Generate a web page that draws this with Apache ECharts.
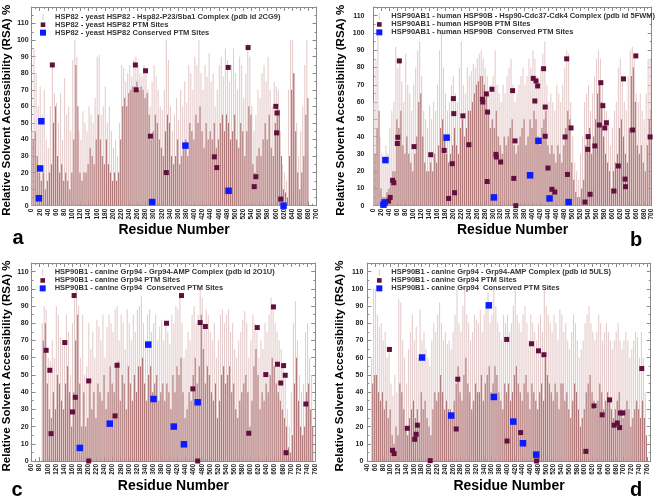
<!DOCTYPE html>
<html><head><meta charset="utf-8">
<script src="https://cdn.jsdelivr.net/npm/echarts@6/dist/echarts.min.js"></script>
<style>html,body{margin:0;padding:0;background:#fff}#c{width:660px;height:498px}</style>
</head><body><div id="c"></div>
<script>
// ---------- DATA (RSA %, binned every 5 residues: upper spikes and dense lower body) ----------
const BIN = 5;

// Panel a: HSP82 yeast (2CG9)
const rsaStartA = 0;
const rsaPeakA = [45,95,80,60,72,55,70,40,35,60,85,68,62,50,68,40,77,55,60,45,
  88,100,90,45,40,57,50,45,60,55,50,65,90,91,55,60,72,50,60,45,
  35,40,30,50,85,83,75,80,85,78,88,90,85,80,78,85,80,70,60,75,
  85,78,70,60,58,70,100,88,60,45,55,65,52,70,60,75,62,85,80,70,
  90,85,100,80,70,85,78,92,75,80,60,70,85,90,78,95,88,75,85,95,
  80,70,90,85,65,80,98,90,60,45,55,70,65,80,85,75,90,70,60,75,
  72,70,45,25,20,15,70,100,100,80,50,30,45,60,85,100];
const rsaBaseA = [40,45,30,20,15,20,10,15,20,25,50,60,30,20,25,15,20,15,10,20,
  40,85,60,20,15,20,20,25,35,30,25,40,55,40,30,25,40,25,20,15,
  20,15,20,40,60,65,60,68,70,72,72,75,70,72,70,65,68,55,40,45,
  55,50,40,35,30,45,55,50,30,25,30,40,25,30,35,40,30,50,45,40,
  55,50,60,45,35,50,40,45,40,50,35,40,50,55,45,55,50,40,45,55,
  40,35,50,45,30,45,60,55,25,20,30,35,30,40,50,40,55,35,30,50,
  60,58,30,10,8,5,30,70,80,45,20,10,20,30,55,65];
const ptmResA = [51,255,257,280,292,331,449,455,483,532,547,551,600,603,602,612];
const ptmValA = [85,85,70,81.5,42,20,29.5,23,83.5,95.5,11.5,17.5,60,56,44,4];
const consResA = [18,21,24,296,378,484,619];
const consValA = [4.5,22.5,51,2.2,36.3,9,0];

// Panel b: HSP90AB1 human (5FWM)
const rsaStartB = 0;
const rsaPeakB = [60,85,98,40,30,25,35,30,45,55,60,92,80,85,72,60,88,70,65,55,
  70,80,90,95,75,55,50,45,58,50,60,55,70,90,100,80,65,55,60,70,
  75,65,60,80,95,70,65,80,75,78,82,80,85,88,90,85,80,75,65,70,
  75,90,70,65,60,70,65,75,80,85,70,60,65,70,75,80,70,75,85,80,
  90,85,75,70,80,88,95,70,60,65,60,55,70,65,60,70,80,90,88,60,
  40,25,20,15,30,40,60,65,70,55,65,75,85,90,85,70,60,55,50,35,
  45,55,60,80,85,75,60,55,75,90,92,85,65,60,65,55,50,65,85,85];
const rsaBaseB = [30,45,55,10,5,5,8,10,15,20,20,50,45,55,35,30,40,30,25,20,
  30,40,60,65,40,25,20,20,25,20,30,25,35,45,50,40,30,25,30,35,
  45,35,30,45,50,40,45,55,55,60,65,70,72,75,75,70,65,55,45,50,
  45,55,40,35,30,40,35,40,45,50,35,30,35,40,45,50,35,40,50,45,
  55,50,40,35,45,50,55,35,30,35,30,25,35,30,25,35,45,55,50,25,
  15,8,5,5,10,15,35,40,45,30,40,50,65,70,60,40,30,25,20,10,
  20,25,30,45,50,40,30,25,45,75,80,60,35,30,35,25,20,35,50,55];
const ptmResB = [38,42,48,51,60,61,65,102,144,178,189,198,201,202,204,225,240,274,275,284,286,287,298,
  308,309,320,350,353,356,358,402,406,409,413,428,432,432,439,449,456,482,486,488,497,532,539,540,545,
  557,568,572,577,582,586,605,616,629,633,634,652,660,696];
const ptmValB = [2.7,4.8,14.7,13.3,36,39.6,83.8,34.2,29.5,32,4.2,24.3,62,53.3,7.5,52,35.3,61.6,60,64.7,14,54.2,67.4,
  29.7,28.2,25.3,66.6,15.8,37.5,0,73.7,60.6,72.2,69.3,79.3,57.1,40.2,21.8,9.5,7.9,39.8,85,18.1,45,2.1,32.6,40,6.6,
  34.6,46.7,71.2,57.9,45,48,8.5,23,73.4,15.4,11,43.8,86.7,39.8];
const consResB = [25,28,30,184,303,394,415,443,491];
const consValB = [0.6,1.9,26.4,39.4,4.8,17.6,37.5,4.2,2.1];

// Panel c: HSP90B1 canine Grp94 (2O1U)
const rsaStartC = 85;
const rsaPeakC = [80,90,88,60,58,70,60,90,85,72,70,70,85,75,50,80,97,100,90,60,
  85,50,55,80,65,75,60,82,78,70,85,60,78,85,80,75,88,90,70,85,
  80,65,88,80,70,85,75,88,90,96,80,70,85,88,75,80,85,70,78,82,
  70,80,75,68,85,80,90,88,96,80,60,65,75,70,85,90,80,85,100,95,
  80,88,85,75,70,80,60,70,85,88,80,85,88,75,80,65,60,70,75,82,
  87,80,60,70,85,80,75,60,70,65,80,75,85,95,90,80,75,70,65,55,
  50,30,20,40,80,93,70,50,40,45,75,80,60,50];
const rsaBaseC = [70,80,45,30,25,40,30,50,45,35,30,45,55,40,20,40,70,85,45,20,
  40,20,25,45,30,40,25,45,40,35,50,30,40,55,45,40,55,58,35,50,
  45,30,55,45,35,50,40,55,55,60,45,35,50,55,40,45,50,35,40,45,
  35,45,40,30,50,40,55,50,60,40,25,30,40,35,50,60,45,55,85,65,
  45,55,50,40,35,45,25,35,50,55,45,50,55,40,45,30,25,35,40,45,
  50,40,20,35,55,65,50,30,40,35,45,40,50,60,55,45,40,35,30,25,
  20,8,5,15,45,60,35,20,15,20,40,45,30,20];
const ptmResC = [96,105,108,142,161,165,168,201,201,266,271,393,430,458,470,476,489,596,617,638,657,667,675,682,686,688,737];
const ptmValC = [64.3,52.7,15.9,68.8,28.5,96.1,37,0,46.5,26.2,55.6,80,96.1,41.9,0,80.4,78.1,16.1,77.5,50.2,89.5,56.2,45.3,55.4,49.8,4.8,33.1];
const consResC = [179,253,348,361,411,436,470];
const consValC = [7.6,21.7,67.6,36,20,9.7,34.1];

// Panel d: HSP90B1 canine Grp94 (5ULS)
const rsaStartD = 50;
const rsaPeakD = [60,100,100,85,78,80,70,75,60,65,45,38,50,40,94,92,70,60,45,65,
  75,85,70,78,60,88,70,75,65,60,55,70,80,75,85,92,80,70,75,68,
  70,65,75,85,100,80,75,90,100,85,80,70,75,85,82,80,88,75,85,90,
  98,80,85,99,90,80,75,70,85,80,85,75,80,90,99,85,80,75,85,90,
  80,70,85,80,75,70,80,85,75,100,90,85,80,75,85,80,70,88,85,75,
  80,70,65,75,85,80,70,60,65,70,80,85,90,80,75,70,75,85,80,70,
  75,80,75,70,65,70,75,80,70,65,70,75,70,60,65,70,75,72,60,75,
  60,40];
const rsaBaseD = [45,50,50,40,35,40,30,35,25,30,15,10,20,15,45,40,30,20,15,25,
  30,35,25,30,20,40,30,35,25,20,15,30,40,35,40,50,40,30,35,30,
  30,25,35,45,55,40,35,50,60,45,40,30,35,45,40,40,50,35,45,50,
  55,40,45,55,50,40,35,30,45,40,45,35,40,50,55,45,40,35,45,50,
  40,30,45,40,35,30,40,45,35,60,50,45,40,35,45,40,30,45,45,35,
  40,30,25,35,45,40,30,20,25,30,40,45,50,40,35,30,35,45,40,30,
  35,40,35,30,25,30,35,40,30,25,30,35,30,20,25,30,35,30,25,35,
  25,15];
const ptmResD = [97,105,109,143,162,166,169,202,269,273,399,400,435,463,476,481,495,603,624,645,664,676,684,690,692,698,747];
const ptmValD = [64.8,6.2,4.3,19,12.6,15.5,20.8,0.2,18.6,47.5,70.6,11.6,16.5,68.1,0,64,61.7,5.6,32,26.8,35.5,20.8,22.1,19.4,27.9,27.9,53.7];
const consResD = [181,256,353,366,416,441,475];
const consValD = [60.1,26.4,90.4,37.2,22.9,10.3,3.7];

// Legend texts
const namesA = ['HSP82 - yeast HSP82 - Hsp82-P23/Sba1 Complex (pdb id 2CG9)','HSP82 - yeast HSP82 PTM Sites','HSP82 - yeast HSP82 Conserved PTM Sites'];
const namesB = ['HSP90AB1 - human HSP90B - Hsp90-Cdc37-Cdk4 Complex (pdb id 5FWM)','HSP90AB1 - human HSP90B PTM Sites','HSP90AB1 - human HSP90B  Conserved PTM Sites'];
const namesC = ['HSP90B1 - canine Grp94 - Grp94-AMP Complex (pdb id 2O1U)','HSP90B1 - canine Grp94 PTM Sites','HSP90B1 - canine Grp94  Conserved PTM Sites'];
const namesD = ['HSP90B1 - canine Grp94 - Grp94-AMP Complex (pdb id 5ULS)','HSP90B1 - canine Grp94 PTM Sites','HSP90B1 - canine Grp94  Conserved PTM Sites'];
const xTitle = 'Residue Number';
const yTitle = 'Relative Solvent Accessibility (RSA) %';

// ---------- LAYOUT ----------
const panels = [
  {letter:'a', names:namesA, start:rsaStartA, peak:rsaPeakA, base:rsaBaseA, ptmR:ptmResA, ptmV:ptmValA, consR:consResA, consV:consValA,
   grid:{left:31.5, top:7, width:285, height:198.7}, xMin:0, xMax:700, yMax:120, yGap:18.3, yMargin:3,
   leg:{left:38, top:12.7}, let:{x:12.5, y:238}},
  {letter:'b', names:namesB, start:rsaStartB, peak:rsaPeakB, base:rsaBaseB, ptmR:ptmResB, ptmV:ptmValB, consR:consResB, consV:consValB,
   grid:{left:373.5, top:7, width:278.2, height:198.7}, xMin:0, xMax:700, yMax:115, yGap:27, yMargin:9,
   leg:{left:374.3, top:12.4}, let:{x:630, y:240}},
  {letter:'c', names:namesC, start:rsaStartC, peak:rsaPeakC, base:rsaBaseC, ptmR:ptmResC, ptmV:ptmValC, consR:consResC, consV:consValC,
   grid:{left:30.7, top:263, width:284.5, height:198}, xMin:60, xMax:760, yMax:115, yGap:17.5, yMargin:3,
   leg:{left:37.7, top:268.4}, let:{x:11.5, y:490}},
  {letter:'d', names:namesD, start:rsaStartD, peak:rsaPeakD, base:rsaBaseD, ptmR:ptmResD, ptmV:ptmValD, consR:consResD, consV:consValD,
   grid:{left:367.3, top:263, width:283.4, height:198}, xMin:40, xMax:770, yMax:115, yGap:21, yMargin:4,
   leg:{left:374.3, top:268.4}, let:{x:630, y:490}}
];

const FONT = 'Liberation Sans, Arial, sans-serif';
const AX = '#8a8a8a';
const LIGHT = '#e6cccc', DARK = '#b07878', PURPLE = '#620f3e', BLUE = '#0d1bff';
const iconLine = 'path://M0,0M120,65M45,0h10v65h-10z';
const iconPtm = 'path://M0,0M120,65M27,10h46v46h-46z';
const iconCons = 'path://M0,0M120,65M20,2h60v60h-60z';

const grids = [], xAxes = [], yAxes = [], series = [], legends = [], graphics = [];
panels.forEach((p, i) => {
  grids.push(Object.assign({containLabel:false}, p.grid));
  ['bottom','top'].forEach(pos => {
    const main = pos === 'bottom';
    xAxes.push({type:'value', gridIndex:i, position:pos, min:p.xMin, max:p.xMax, interval:20,
      axisLine:{show:true, onZero:false, lineStyle:{color:AX, width:1}},
      axisTick:{show:true, inside:true, length:4, lineStyle:{color:AX}},
      minorTick:{show:true, splitNumber:2, length:2, lineStyle:{color:AX}},
      splitLine:{show:false},
      axisLabel:{show:main, rotate:90, fontSize:6.5, fontWeight:'bold', color:'#222', margin:3, fontFamily:FONT,
        showMaxLabel: p.xMax % 20 === 0, showMinLabel:true},
      name: main ? xTitle : '', nameLocation:'middle', nameGap:15,
      nameTextStyle:{fontSize:14, fontWeight:'bold', color:'#000', fontFamily:FONT}
    });
  });
  ['left','right'].forEach(pos => {
    const main = pos === 'left';
    yAxes.push({type:'value', gridIndex:i, position:pos, min:0, max:p.yMax, interval:10,
      axisLine:{show:true, onZero:false, lineStyle:{color:AX, width:1}},
      axisTick:{show:true, inside:true, length:4, lineStyle:{color:AX}},
      minorTick:{show:true, splitNumber:2, length:2, lineStyle:{color:AX}},
      splitLine:{show:false},
      axisLabel:{show:main, fontSize:7, fontWeight:'bold', color:'#222', margin:p.yMargin, fontFamily:FONT, showMaxLabel:false},
      name: main ? yTitle : '', nameLocation:'middle', nameGap:p.yGap,
      nameTextStyle:{fontSize:11.5, fontWeight:'bold', color:'#000', fontFamily:FONT, padding:[0,8,0,0]}
    });
  });
  const xi = i*2, yi = i*2;
  const peakData = p.peak.map((v, k) => [p.start + k*BIN + BIN/2, v]);
  const baseData = p.base.map((v, k) => [p.start + k*BIN + BIN/2, v]);
  series.push({type:'bar', name:p.names[0], xAxisIndex:xi, yAxisIndex:yi, data:peakData,
    barWidth:1.1, barGap:'0%', itemStyle:{color:LIGHT}, z:2});
  series.push({type:'bar', name:p.names[0], xAxisIndex:xi, yAxisIndex:yi, data:baseData,
    barWidth:1.1, barGap:'0%', itemStyle:{color:DARK}, z:2});
  series.push({type:'scatter', name:p.names[1], xAxisIndex:xi, yAxisIndex:yi,
    data:p.ptmR.map((r, k) => [r, p.ptmV[k]]), symbol:'rect', symbolSize:5,
    itemStyle:{color:PURPLE, opacity:1}, z:4});
  series.push({type:'scatter', name:p.names[2], xAxisIndex:xi, yAxisIndex:yi,
    data:p.consR.map((r, k) => [r, p.consV[k]]), symbol:'rect', symbolSize:6.5,
    itemStyle:{color:BLUE, opacity:1}, z:5});
  legends.push({orient:'vertical', left:p.leg.left, top:p.leg.top, padding:0, itemGap:0,
    itemWidth:12, itemHeight:6.5, selectedMode:false,
    textStyle:{fontSize:7.5, fontWeight:'bold', color:'#333', lineHeight:6.5, fontFamily:FONT},
    data:[{name:p.names[0], icon:iconLine},{name:p.names[1], icon:iconPtm},{name:p.names[2], icon:iconCons}]});
  graphics.push({type:'text', x:p.let.x, y:p.let.y,
    style:{text:p.letter, font:'bold 20px ' + FONT, fill:'#000', verticalAlign:'middle'}});
});

const chart = echarts.init(document.getElementById('c'), null, {renderer:'canvas'});
chart.setOption({
  animation:false,
  backgroundColor:'#fff',
  grid:grids, xAxis:xAxes, yAxis:yAxes, series:series, legend:legends, graphic:graphics
});
</script>
</body></html>
